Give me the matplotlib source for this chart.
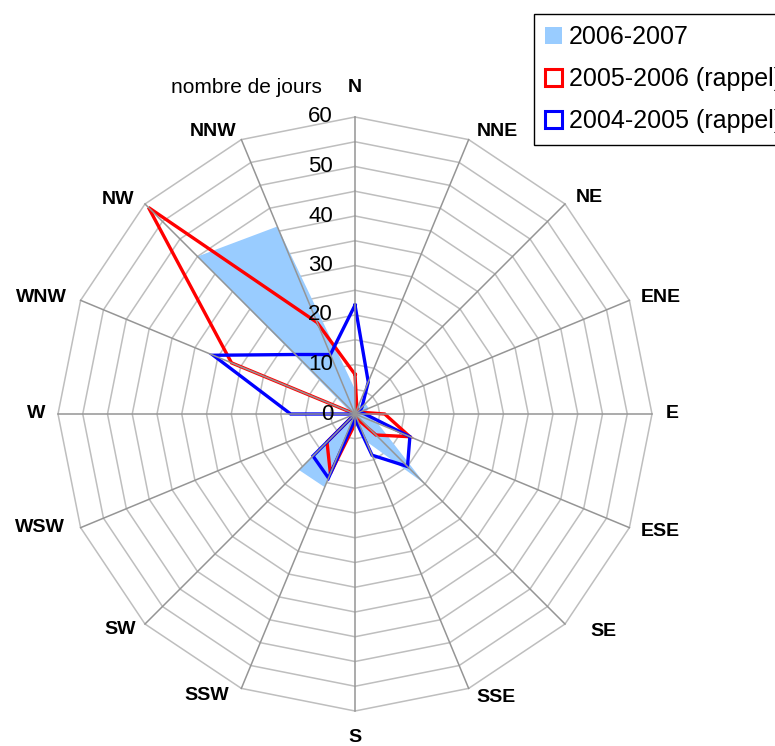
import numpy as np
import matplotlib.pyplot as plt
from matplotlib.patches import Patch

plt.rcParams["font.family"] = ["Liberation Sans", "DejaVu Sans"]

# directions du vent (sens horaire depuis le nord)
directions = ["N", "NNE", "NE", "ENE", "E", "ESE", "SE", "SSE",
              "S", "SSW", "SW", "WSW", "W", "WNW", "NW", "NNW"]

# nombre de jours par direction
jours_2006_2007 = [5, 2, 3, 3, 2, 5, 20, 6, 2, 16, 16, 1, 1, 1, 45, 41]
jours_2005_2006 = [8, 1, 1, 1, 6, 12, 6, 1, 2, 13, 8, 0, 0, 27, 59, 20]
jours_2004_2005 = [22, 7, 2, 1, 2, 12, 15, 9, 1, 14, 12, 0, 13, 31, 17, 13]

noms = ["2006-2007", "2005-2006 (rappel)", "2004-2005 (rappel)"]
graduations = [0, 10, 20, 30, 40, 50, 60]
r_max = 60

theta = np.deg2rad(np.arange(len(directions)) * 360.0 / len(directions))


def to_xy(r):
    r = np.asarray(r, dtype=float)
    return r * np.sin(theta), r * np.cos(theta)


def ferme(x, y):
    return np.append(x, x[0]), np.append(y, y[0])


W, H = 775, 746
cx, cy = 355, 414           # centre en pixels
echelle = 297 / r_max       # pixels par jour

fig = plt.figure(figsize=(W / 100, H / 100), dpi=100)
ax = fig.add_axes([0, 0, 1, 1])
ax.set_xlim(-cx / echelle, (W - cx) / echelle)
ax.set_ylim(-(H - cy) / echelle, cy / echelle)
ax.axis("off")

# anneaux de la grille tous les 5 jours
for v in range(5, r_max + 1, 5):
    gx, gy = ferme(*to_xy(np.full(len(directions), v)))
    ax.plot(gx, gy, color="#BEBEBE", lw=1.1, zorder=1)

# série remplie
fx, fy = ferme(*to_xy(jours_2006_2007))
ax.fill(fx, fy, color="#99CCFF", lw=0, zorder=2)

# séries en lignes
for vals, col in [(jours_2005_2006, "#FF0000"), (jours_2004_2005, "#0000FF")]:
    lx, ly = ferme(*to_xy(vals))
    ax.plot(lx, ly, color=col, lw=2.4, solid_joinstyle="miter", zorder=3)

# rayons
ex, ey = to_xy(np.full(len(directions), r_max))
for x1, y1 in zip(ex, ey):
    ax.plot([0, x1], [0, y1], color="#959595", lw=1.1, zorder=4)

# graduations sur l'axe N
for g in graduations:
    ax.text(-22 / echelle, g, str(g), ha="right", va="center",
            fontsize=16, color="black", zorder=6)
ax.text(-33 / echelle, 66, "nombre de jours", ha="right", va="center",
        fontsize=15, zorder=6)

# étiquettes des directions (décalages en pixels depuis le centre)
dx_lab = [0, 142, 234, 306, 317, 305, 248, 141,
          0, -148, -235, -315, -319, -314, -237, -142]
dy_lab = [327, 283, 216, 116, 0, -118, -217, -283,
          -323, -281, -216, -113, 0, 116, 214, 283]
for nom, x1, y1 in zip(directions, dx_lab, dy_lab):
    ax.text(x1 / echelle, y1 / echelle, nom, ha="center", va="center",
            fontsize=14, fontweight="bold", zorder=6)

poignees = [
    Patch(facecolor="#99CCFF", edgecolor="none"),
    Patch(facecolor="white", edgecolor="#FF0000", linewidth=2.2),
    Patch(facecolor="white", edgecolor="#0000FF", linewidth=2.2),
]
leg = ax.legend(poignees, noms, loc="upper left",
                bbox_to_anchor=(534 / W, 1 - 14 / H), bbox_transform=fig.transFigure,
                borderaxespad=0, fontsize=18, frameon=True, fancybox=False,
                edgecolor="black", framealpha=1, borderpad=0.45,
                handlelength=0.65, handleheight=0.65, handletextpad=0.3,
                labelspacing=0.72)
leg.get_frame().set_linewidth(1.0)
leg.set_zorder(10)

fig.savefig("out.png", dpi=100)
